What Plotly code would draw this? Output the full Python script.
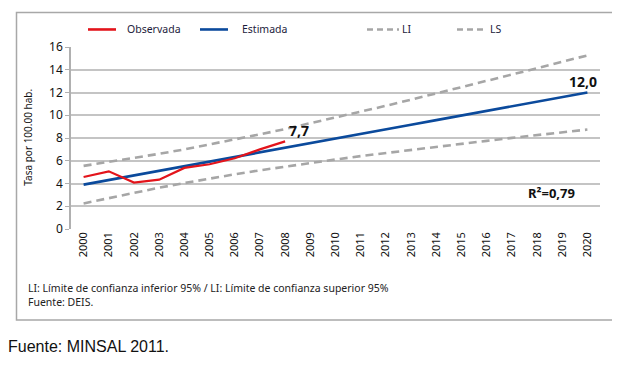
import plotly.graph_objects as go

years = [str(y) for y in range(2000, 2021)]
observada = [4.57, 5.07, 4.08, 4.34, 5.37, 5.69, 6.22, 7.0, 7.7]
estimada = [3.90, 4.31, 4.71, 5.12, 5.52, 5.93, 6.33, 6.74, 7.14, 7.55, 7.95,
            8.36, 8.76, 9.17, 9.57, 9.98, 10.38, 10.79, 11.19, 11.60, 12.00]
ls = [5.55, 5.89, 6.24, 6.61, 7.00, 7.42, 7.86, 8.32, 8.79, 9.29, 9.79,
      10.31, 10.83, 11.37, 11.91, 12.47, 13.01, 13.58, 14.13, 14.70, 15.26]
li = [2.25, 2.73, 3.19, 3.63, 4.04, 4.44, 4.81, 5.16, 5.49, 5.81, 6.11,
      6.41, 6.69, 6.97, 7.23, 7.50, 7.75, 8.01, 8.25, 8.50, 8.74]
y_ticks = [0, 2, 4, 6, 8, 10, 12, 14, 16]

RED = "#e3141b"
BLUE = "#0b4a9c"
GRAY = "#a6a6a6"
FONT = "Noto Sans"

OFF = 8  # page body margin
W, H = 620 - OFF, 365 - OFF
L, R, T, B = 71 - OFF, 600 - OFF, 47 - OFF, 228.7 - OFF

def px(x):
    return (x - OFF - L) / (R - L)

def py(y):
    return (B - (y - OFF)) / (B - T)

fig = go.Figure()
fig.add_trace(go.Scatter(x=years, y=li, mode="lines", name="LI",
                         line=dict(color=GRAY, width=2.6, dash="8px,5px")))
fig.add_trace(go.Scatter(x=years, y=ls, mode="lines", name="LS",
                         line=dict(color=GRAY, width=2.6, dash="8px,5px")))
fig.add_trace(go.Scatter(x=years, y=estimada, mode="lines", name="Estimada",
                         line=dict(color=BLUE, width=2.6)))
fig.add_trace(go.Scatter(x=years[:len(observada)], y=observada, mode="lines",
                         name="Observada", line=dict(color=RED, width=2.2)))

shapes = []
shapes.append(dict(type="rect", xref="paper", yref="paper",
                   x0=px(16.5), x1=px(613), y0=py(319.5), y1=py(12.5),
                   line=dict(color="#a8a8a8", width=1.5), layer="below"))
annotations = []
legend_items = [
    ("Observada", RED, "solid", 88, 116, 125),
    ("Estimada", BLUE, "solid", 200, 228, 240),
    ("LI", GRAY, "dash", 367, 399, 400),
    ("LS", GRAY, "dash", 457, 485, 488),
]
for name, col, dash, x0, x1, tx in legend_items:
    shapes.append(dict(type="line", xref="paper", yref="paper",
                       x0=px(x0), x1=px(x1), y0=py(29.5), y1=py(29.5),
                       line=dict(color=col, width=2.6,
                                 dash="6px,4px" if dash == "dash" else "solid")))
    annotations.append(dict(text=name, xref="paper", yref="paper",
                            x=px(tx), y=py(29.5), xanchor="left", yanchor="middle",
                            showarrow=False,
                            font=dict(family=FONT, size=10.5, color="#1c1c3c")))

i_obs = len(observada) - 1
i_est = len(estimada) - 1
annotations += [
    dict(text="<b>7,7</b>", x=i_obs, y=observada[-1],
         xanchor="left", yanchor="bottom", xshift=2, yshift=-1, showarrow=False,
         font=dict(family=FONT, size=14, color="#111111")),
    dict(text="<b>12,0</b>", x=i_est, y=estimada[-1],
         xanchor="center", yanchor="bottom", xshift=-4, yshift=0, showarrow=False,
         font=dict(family=FONT, size=14, color="#111111")),
    dict(text="<b>R²=0,79</b>", xref="paper", yref="paper", x=px(551), y=py(193),
         xanchor="center", yanchor="middle", showarrow=False,
         font=dict(family=FONT, size=13, color="#111111")),
    dict(text="Tasa por 100.00 hab.", xref="paper", yref="paper", x=px(28),
         y=py(137.5), textangle=-90, xanchor="center", yanchor="middle",
         showarrow=False, font=dict(family=FONT, size=10, color="#111111")),
    dict(text="LI: Límite de confianza inferior 95% / LI: Límite de confianza superior 95%"
              "<br>Fuente: DEIS.",
         xref="paper", yref="paper", x=px(26), y=py(295), xanchor="left",
         yanchor="middle", align="left", showarrow=False,
         font=dict(family=FONT, size=10.5, color="#222222")),
    dict(text="Fuente: MINSAL 2011.", xref="paper", yref="paper", x=px(6), y=py(346.5),
         xanchor="left", yanchor="middle", showarrow=False,
         font=dict(family="Liberation Sans", size=16, color="#111111")),
]

fig.update_layout(
    width=W, height=H,
    margin=dict(l=L, r=W - R, t=T, b=H - B),
    paper_bgcolor="white", plot_bgcolor="white",
    showlegend=False,
    shapes=shapes, annotations=annotations,
    font=dict(family=FONT, color="#111111"),
)
fig.update_xaxes(type="category", tickangle=-90, showgrid=False,
                 tickfont=dict(family=FONT, size=11, color="#111111"),
                 showline=False, ticks="", range=[-0.5, 20.5])
fig.update_yaxes(range=[0, 16], tickvals=y_ticks, showgrid=True,
                 gridcolor="#c4c4c4", gridwidth=1.5, zeroline=False,
                 showline=True, linecolor="#b0b0b0", linewidth=1.5,
                 ticks="outside", ticklen=4, tickcolor="#b0b0b0",
                 tickfont=dict(family=FONT, size=12, color="#111111"))

fig.write_html("out.html")
